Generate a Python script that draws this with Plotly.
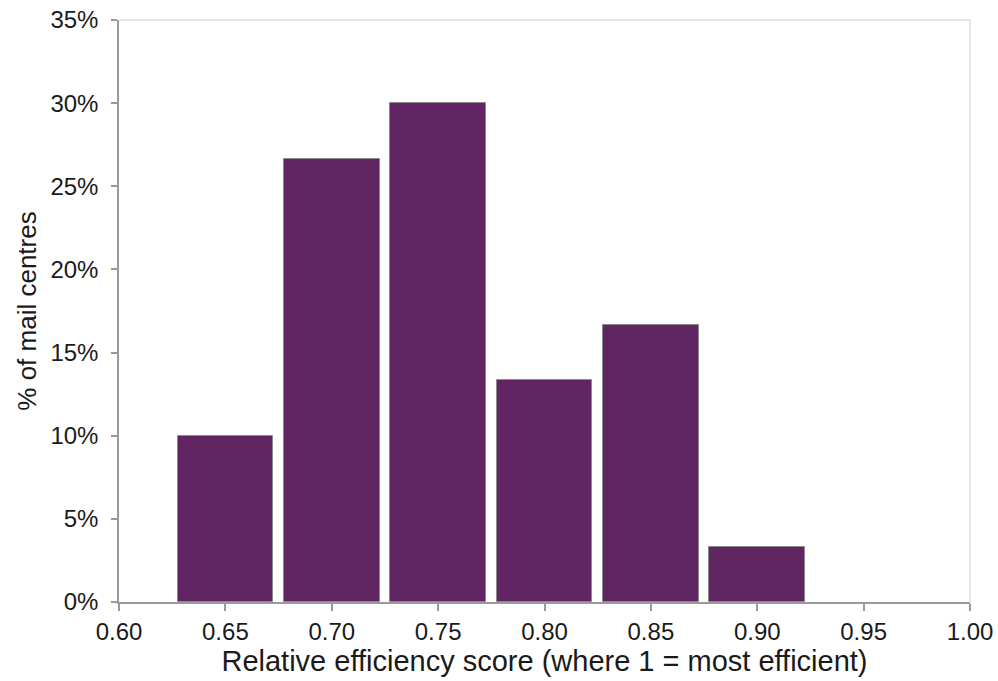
import plotly.graph_objects as go

# Relative efficiency score bins (bin centres) and share of mail centres
scores = [0.65, 0.70, 0.75, 0.80, 0.85, 0.90]
share = [0.10, 0.2667, 0.30, 0.1333, 0.1667, 0.0333]

x_ticks = [0.60, 0.65, 0.70, 0.75, 0.80, 0.85, 0.90, 0.95, 1.00]
y_ticks = [0.0, 0.05, 0.10, 0.15, 0.20, 0.25, 0.30, 0.35]

bar_color = "#612563"
axis_color = "#9a9a9a"
font_family = "Liberation Sans, Arial, sans-serif"

fig = go.Figure()
fig.add_trace(go.Bar(
    x=scores,
    y=share,
    width=0.045,
    marker=dict(color=bar_color, line=dict(color="#8a8a8a", width=1)),
    hoverinfo="x+y",
))

fig.update_layout(
    width=998,
    height=681,
    margin=dict(l=119, r=28, t=20, b=79),
    paper_bgcolor="white",
    plot_bgcolor="white",
    font=dict(family=font_family, color="#1a1a1a", size=24),
    showlegend=False,
    bargap=0,
)

fig.update_xaxes(
    range=[0.60, 1.00],
    tickvals=x_ticks,
    ticktext=[f"{v:.2f}" for v in x_ticks],
    showgrid=False,
    zeroline=False,
    showline=True,
    linecolor=axis_color,
    linewidth=1.5,
    ticks="outside",
    ticklen=7,
    tickcolor=axis_color,
    tickwidth=1.5,
    tickfont=dict(size=24),
    automargin=False,
    title=dict(text="Relative efficiency score (where 1 = most efficient)",
               font=dict(size=29), standoff=4),
)

fig.update_yaxes(
    range=[0, 0.35],
    tickvals=y_ticks,
    ticktext=[f"{round(v * 100)}%" for v in y_ticks],
    showgrid=False,
    zeroline=False,
    showline=True,
    linecolor=axis_color,
    linewidth=1.5,
    ticks="outside",
    ticklen=6,
    tickcolor=axis_color,
    tickwidth=1.5,
    tickfont=dict(size=24),
    ticklabelstandoff=8,
    automargin=False,
    title=dict(text="% of mail centres", font=dict(size=26), standoff=6),
)

# Light frame along the top and right edges of the plotting area
fig.add_shape(type="line", xref="paper", yref="paper", x0=0, x1=1, y0=1, y1=1,
              line=dict(color="#dcdcdc", width=1.5), layer="below")
fig.add_shape(type="line", xref="paper", yref="paper", x0=1, x1=1, y0=0, y1=1,
              line=dict(color="#dcdcdc", width=1.5), layer="below")

fig.write_html("out.html")
